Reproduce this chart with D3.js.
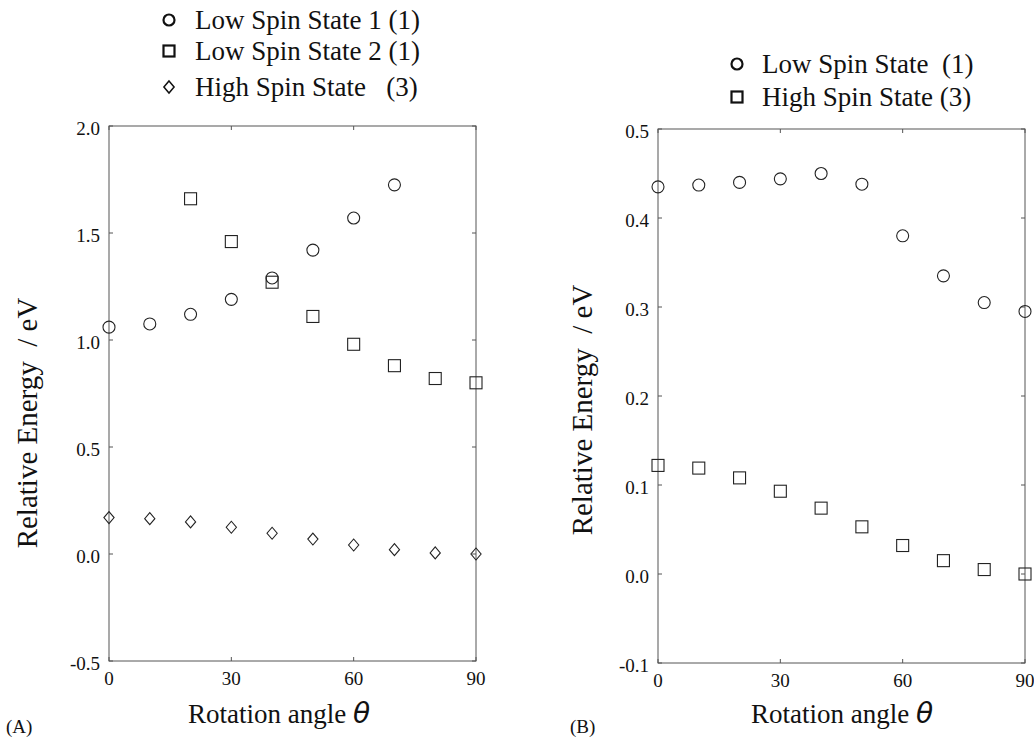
<!DOCTYPE html>
<html>
<head>
<meta charset="utf-8">
<script src="https://cdn.jsdelivr.net/npm/d3@7"></script>
<style>
  body { margin: 0; background: #fff; }
  svg { display: block; }
  text { font-family: "Liberation Serif", "Times New Roman", serif; fill: #111; white-space: pre; }
  .frame { fill: none; stroke: #555; stroke-width: 1; }
  .mark { fill: none; stroke: #222; stroke-width: 1.1; }
</style>
</head>
<body>
<div id="chart"></div>
<script>
// panel A data
var anglesA = [0, 10, 20, 30, 40, 50, 60, 70, 80, 90];
var lowSpin1A = [1.06, 1.075, 1.12, 1.19, 1.29, 1.42, 1.57, 1.725, null, null];
var lowSpin2A = [null, null, 1.66, 1.46, 1.27, 1.11, 0.98, 0.88, 0.82, 0.80];
var highSpinA = [0.17, 0.165, 0.15, 0.125, 0.097, 0.07, 0.042, 0.02, 0.005, 0.0];
var yTicksA = [-0.5, 0.0, 0.5, 1.0, 1.5, 2.0];

// panel B data
var anglesB = [0, 10, 20, 30, 40, 50, 60, 70, 80, 90];
var lowSpinB = [0.435, 0.437, 0.44, 0.444, 0.45, 0.438, 0.38, 0.335, 0.305, 0.295];
var highSpinB = [0.122, 0.119, 0.108, 0.093, 0.074, 0.053, 0.032, 0.015, 0.005, 0.0];
var yTicksB = [-0.1, 0.0, 0.1, 0.2, 0.3, 0.4, 0.5];

var xTicks = [0, 30, 60, 90];

var width = 1034, height = 739;

var svg = d3.select("#chart").append("svg")
    .attr("width", width)
    .attr("height", height);

// plain hyphen for negatives, like the original
function fmt(v) {
  return d3.format(".1f")(v).replace("\u2212", "-");
}

function marker(g, shape, cx, cy, s) {
  if (shape == "circle") {
    return g.append("circle").attr("class", "mark").attr("cx", cx).attr("cy", cy).attr("r", s);
  } else if (shape == "square") {
    return g.append("rect").attr("class", "mark")
      .attr("x", cx - s).attr("y", cy - s).attr("width", 2 * s).attr("height", 2 * s);
  }
  return g.append("path").attr("class", "mark")
    .attr("d", "M" + cx + "," + (cy - s) + "L" + (cx + s * 0.85) + "," + cy + "L" + cx + "," + (cy + s) + "L" + (cx - s * 0.85) + "," + cy + "Z");
}

function panel(opts) {
  var x = d3.scaleLinear().domain([0, 90]).range([opts.left, opts.right]);
  var y = d3.scaleLinear().domain(opts.yDomain).range([opts.bottom, opts.top]);
  var g = svg.append("g");

  g.append("rect").attr("class", "frame")
    .attr("x", opts.left).attr("y", opts.top)
    .attr("width", opts.right - opts.left).attr("height", opts.bottom - opts.top);

  // inward ticks on all four sides
  var tk = 4;
  opts.yTicks.forEach(function(v) {
    g.append("line").attr("class", "frame").attr("x1", opts.left).attr("x2", opts.left + tk).attr("y1", y(v)).attr("y2", y(v));
    g.append("line").attr("class", "frame").attr("x1", opts.right).attr("x2", opts.right - tk).attr("y1", y(v)).attr("y2", y(v));
    g.append("text").attr("x", opts.left - 9).attr("y", y(v) + 2).attr("dy", "0.35em")
      .attr("text-anchor", "end").style("font-size", "19px")
      .text(fmt(v));
  });
  xTicks.forEach(function(v) {
    g.append("line").attr("class", "frame").attr("x1", x(v)).attr("x2", x(v)).attr("y1", opts.bottom).attr("y2", opts.bottom - tk);
    g.append("line").attr("class", "frame").attr("x1", x(v)).attr("x2", x(v)).attr("y1", opts.top).attr("y2", opts.top + tk);
    g.append("text").attr("x", x(v)).attr("y", opts.bottom + 24)
      .attr("text-anchor", "middle").style("font-size", "19px")
      .text(v);
  });

  // series
  opts.series.forEach(function(s) {
    s.values.forEach(function(v, i) {
      if (v == null) return;
      marker(g, s.shape, x(opts.angles[i]), y(v), s.size);
    });
  });

  // axis titles
  g.append("text")
    .attr("transform", "translate(" + opts.yTitleX + "," + opts.yTitleY + ") rotate(-90)")
    .attr("text-anchor", "middle").style("font-size", "29px")
    .text("Relative Energy  / eV");

  var xt = g.append("text").attr("x", opts.xTitleX).attr("y", 723)
    .attr("text-anchor", "middle").style("font-size", "27px");
  xt.append("tspan").text("Rotation angle ");
  xt.append("tspan").style("font-family", "'DejaVu Sans', sans-serif").style("font-style", "italic")
    .style("font-size", "28px").text("θ");

  g.append("text").attr("x", opts.labelX).attr("y", 733).style("font-size", "19px").text(opts.label);

  // legend
  opts.legend.forEach(function(l) {
    var m = marker(g, l.shape, opts.legX, l.y, l.shape == "diamond" ? 6 : 5.5);
    m.style("stroke-width", l.shape == "diamond" ? 1.5 : 2.2).style("stroke", "#111");
    g.append("text").attr("x", opts.legTextX).attr("y", l.y).attr("dy", "0.35em")
      .style("font-size", "27px").text(l.text);
  });
}

panel({
  left: 109, right: 476, top: 126, bottom: 661,
  yDomain: [-0.5, 2.0], yTicks: yTicksA, angles: anglesA,
  yTitleX: 37, yTitleY: 423, xTitleX: 279, labelX: 6, label: "(A)",
  series: [
    { shape: "circle", values: lowSpin1A, size: 6 },
    { shape: "square", values: lowSpin2A, size: 6 },
    { shape: "diamond", values: highSpinA, size: 6 }
  ],
  legX: 169, legTextX: 195,
  legend: [
    { shape: "circle", text: "Low Spin State 1 (1)", y: 20 },
    { shape: "square", text: "Low Spin State 2 (1)", y: 51 },
    { shape: "diamond", text: "High Spin State   (3)", y: 87 }
  ]
});

panel({
  left: 658, right: 1025, top: 129, bottom: 663,
  yDomain: [-0.1, 0.5], yTicks: yTicksB, angles: anglesB,
  yTitleX: 592, yTitleY: 410, xTitleX: 842, labelX: 570, label: "(B)",
  series: [
    { shape: "circle", values: lowSpinB, size: 6 },
    { shape: "square", values: highSpinB, size: 6 }
  ],
  legX: 737, legTextX: 762,
  legend: [
    { shape: "circle", text: "Low Spin State  (1)", y: 64 },
    { shape: "square", text: "High Spin State (3)", y: 97 }
  ]
});
</script>
</body>
</html>
